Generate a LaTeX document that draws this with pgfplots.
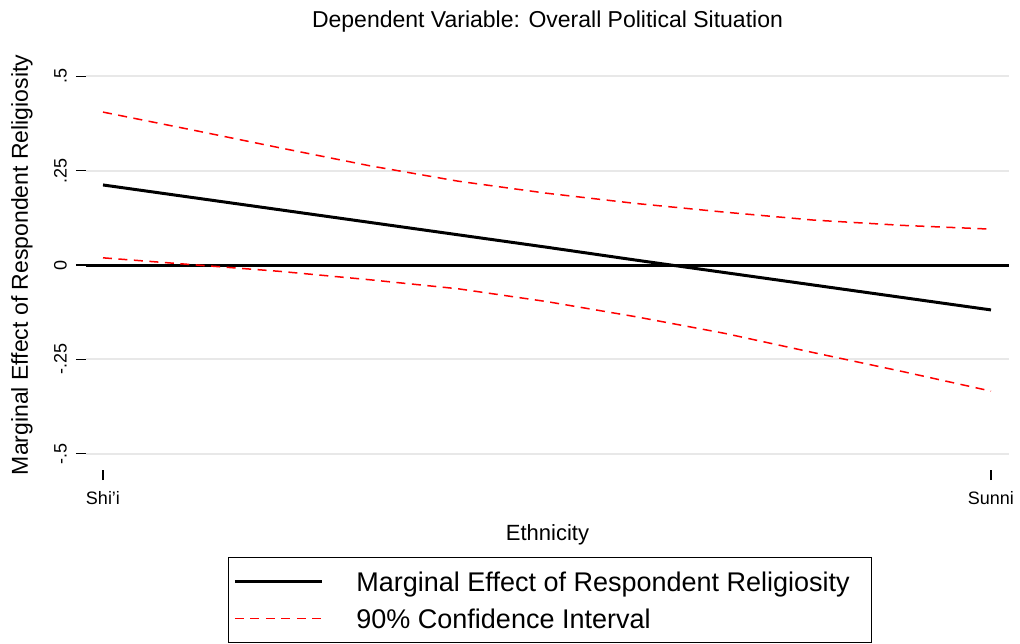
\documentclass[border=0pt]{standalone}
\usepackage{fontspec}
\setmainfont{Liberation Sans}
\usepackage{pgfplots}
\pgfplotsset{compat=1.18}

\pgfplotstableread{
x     me      lo      hi
0.0   0.212   0.019   0.405
0.1   0.179   0.001   0.358
0.2   0.146  -0.017   0.310
0.3   0.113  -0.039   0.263
0.4   0.080  -0.063   0.222
0.5   0.047  -0.097   0.190
0.6   0.013  -0.137   0.163
0.7  -0.020  -0.181   0.140
0.8  -0.053  -0.232   0.119
0.9  -0.086  -0.282   0.105
1.0  -0.119  -0.334   0.095
}\effect

\begin{document}
\begin{tikzpicture}
\begin{axis}[
  at={(86pt,-470pt)}, anchor=south west,
  scale only axis, width=923pt, height=410pt,
  xmin=-0.01914, xmax=1.0203, ymin=-0.543, ymax=0.543,
  axis x line*=bottom, axis y line*=left,
  axis line style={draw=none},
  tick align=outside, major tick length=10pt,
  tick style={black, line width=1.2pt},
  xtick={0,1}, xticklabels={Shi'i,Sunni},
  ytick={-0.5,-0.25,0,0.25,0.5}, yticklabels={-.5,-.25,0,.25,.5},
  ticklabel style={font=\fontsize{18}{18}\selectfont},
  yticklabel style={rotate=90, anchor=south, inner sep=2pt},
  yticklabel shift=7pt, xticklabel shift=8pt,
  ymajorgrids, grid style={draw=black!9, line width=2pt},
  title={Dependent Variable: Overall Political Situation},
  title style={font=\fontsize{23}{23}\selectfont, at={(0.5,1)}, anchor=center, yshift=32pt},
  xlabel={Ethnicity},
  xlabel style={font=\fontsize{22}{22}\selectfont, at={(0.5,0)}, anchor=center, yshift=-65pt},
  ylabel={Marginal Effect of Respondent Religiosity},
  ylabel style={font=\fontsize{23}{23}\selectfont, at={(axis description cs:-0.0693,0.5)}, anchor=center},
  legend style={at={(0.1538,-0.2122)}, anchor=north west, draw=black, line width=1pt,
    font=\fontsize{27}{27}\selectfont, inner xsep=5pt, inner ysep=7pt,
    nodes={inner sep=3pt, text height=24pt, text depth=4pt},
    row sep=3pt, column sep=30pt},
  legend cell align=left,
  legend image code/.code={\draw[#1] (0pt,0pt) -- (87pt,0pt);},
]
\addplot[black, line width=3pt, forget plot] coordinates {(-0.01914,0) (1.0203,0)};
\addplot[black, line width=3pt] table[x=x, y=me] {\effect};
\addlegendentry{Marginal Effect of Respondent Religiosity\hspace*{14pt}}
\addplot[red, line width=1.5pt, dash pattern=on 9pt off 6.5pt] table[x=x, y=hi] {\effect};
\addlegendentry{90\% Confidence Interval}
\addplot[red, line width=1.5pt, dash pattern=on 9pt off 6.5pt, forget plot] table[x=x, y=lo] {\effect};
\end{axis}
\pgfresetboundingbox
\path (0pt,0pt) rectangle (1020pt,-644pt);
\end{tikzpicture}
\end{document}
